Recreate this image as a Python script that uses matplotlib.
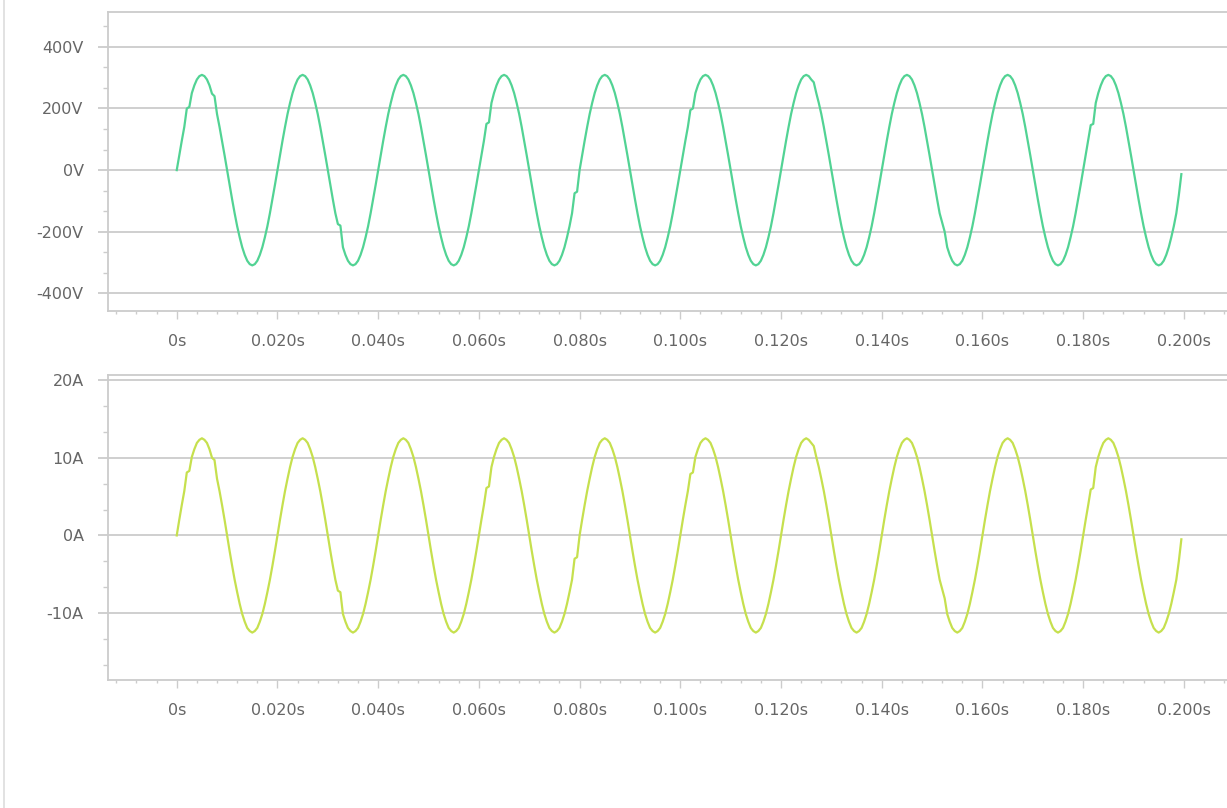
import matplotlib
matplotlib.use("Agg")
import matplotlib.pyplot as plt
from matplotlib.ticker import MultipleLocator, FuncFormatter

# sample times in seconds, 0.5 ms step
time_s = [i * 0.0005 for i in range(400)]

# line voltage, one row per 20 ms cycle
voltage = [
    0, 48, 95, 140, 200, 205, 250, 275, 294, 305, 309, 305, 294, 275, 248, 240, 182, 140, 95, 48,
    0, -48, -95, -140, -182, -218, -250, -275, -294, -305, -309, -305, -294, -275, -250, -218, -182, -140, -95, -48,
    0, 48, 95, 140, 182, 218, 250, 275, 294, 305, 309, 305, 294, 275, 250, 218, 182, 140, 95, 48,
    0, -48, -95, -140, -175, -180, -250, -275, -294, -305, -309, -305, -294, -275, -250, -218, -182, -140, -95, -48,
    0, 48, 95, 140, 182, 218, 250, 275, 294, 305, 309, 305, 294, 275, 250, 218, 182, 140, 95, 48,
    0, -48, -95, -140, -182, -218, -250, -275, -294, -305, -309, -305, -294, -275, -250, -218, -182, -140, -95, -48,
    0, 48, 95, 150, 155, 218, 250, 275, 294, 305, 309, 305, 294, 275, 250, 218, 182, 140, 95, 48,
    0, -48, -95, -140, -182, -218, -250, -275, -294, -305, -309, -305, -294, -275, -250, -218, -182, -140, -75, -70,
    0, 48, 95, 140, 182, 218, 250, 275, 294, 305, 309, 305, 294, 275, 250, 218, 182, 140, 95, 48,
    0, -48, -95, -140, -182, -218, -250, -275, -294, -305, -309, -305, -294, -275, -250, -218, -182, -140, -95, -48,
    0, 48, 95, 140, 195, 200, 250, 275, 294, 305, 309, 305, 294, 275, 250, 218, 182, 140, 95, 48,
    0, -48, -95, -140, -182, -218, -250, -275, -294, -305, -309, -305, -294, -275, -250, -218, -182, -140, -95, -48,
    0, 48, 95, 140, 182, 218, 250, 275, 294, 305, 309, 305, 294, 285, 250, 218, 182, 140, 95, 48,
    0, -48, -95, -140, -182, -218, -250, -275, -294, -305, -309, -305, -294, -275, -250, -218, -182, -140, -95, -48,
    0, 48, 95, 140, 182, 218, 250, 275, 294, 305, 309, 305, 294, 275, 250, 218, 182, 140, 95, 48,
    0, -48, -95, -140, -170, -200, -250, -275, -294, -305, -309, -305, -294, -275, -250, -218, -182, -140, -95, -48,
    0, 48, 95, 140, 182, 218, 250, 275, 294, 305, 309, 305, 294, 275, 250, 218, 182, 140, 95, 48,
    0, -48, -95, -140, -182, -218, -250, -275, -294, -305, -309, -305, -294, -275, -250, -218, -182, -140, -95, -48,
    0, 48, 95, 146, 150, 218, 250, 275, 294, 305, 309, 305, 294, 275, 250, 218, 182, 140, 95, 48,
    0, -48, -95, -140, -182, -218, -250, -275, -294, -305, -309, -305, -294, -275, -250, -218, -182, -140, -81, -13,
]

# line current, same sampling
current = [
    0, 2.0, 3.9, 5.7, 8.1, 8.3, 10.1, 11.1, 11.9, 12.3, 12.5, 12.3, 11.9, 11.1, 10.0, 9.7, 7.3, 5.7, 3.9, 2.0,
    0, -2.0, -3.9, -5.7, -7.3, -8.8, -10.1, -11.1, -11.9, -12.3, -12.5, -12.3, -11.9, -11.1, -10.1, -8.8, -7.3, -5.7, -3.9, -2.0,
    0, 2.0, 3.9, 5.7, 7.3, 8.8, 10.1, 11.1, 11.9, 12.3, 12.5, 12.3, 11.9, 11.1, 10.1, 8.8, 7.3, 5.7, 3.9, 2.0,
    0, -2.0, -3.9, -5.7, -7.1, -7.3, -10.1, -11.1, -11.9, -12.3, -12.5, -12.3, -11.9, -11.1, -10.1, -8.8, -7.3, -5.7, -3.9, -2.0,
    0, 2.0, 3.9, 5.7, 7.3, 8.8, 10.1, 11.1, 11.9, 12.3, 12.5, 12.3, 11.9, 11.1, 10.1, 8.8, 7.3, 5.7, 3.9, 2.0,
    0, -2.0, -3.9, -5.7, -7.3, -8.8, -10.1, -11.1, -11.9, -12.3, -12.5, -12.3, -11.9, -11.1, -10.1, -8.8, -7.3, -5.7, -3.9, -2.0,
    0, 2.0, 3.9, 6.1, 6.3, 8.8, 10.1, 11.1, 11.9, 12.3, 12.5, 12.3, 11.9, 11.1, 10.1, 8.8, 7.3, 5.7, 3.9, 2.0,
    0, -2.0, -3.9, -5.7, -7.3, -8.8, -10.1, -11.1, -11.9, -12.3, -12.5, -12.3, -11.9, -11.1, -10.1, -8.8, -7.3, -5.7, -3.0, -2.8,
    0, 2.0, 3.9, 5.7, 7.3, 8.8, 10.1, 11.1, 11.9, 12.3, 12.5, 12.3, 11.9, 11.1, 10.1, 8.8, 7.3, 5.7, 3.9, 2.0,
    0, -2.0, -3.9, -5.7, -7.3, -8.8, -10.1, -11.1, -11.9, -12.3, -12.5, -12.3, -11.9, -11.1, -10.1, -8.8, -7.3, -5.7, -3.9, -2.0,
    0, 2.0, 3.9, 5.7, 7.9, 8.1, 10.1, 11.1, 11.9, 12.3, 12.5, 12.3, 11.9, 11.1, 10.1, 8.8, 7.3, 5.7, 3.9, 2.0,
    0, -2.0, -3.9, -5.7, -7.3, -8.8, -10.1, -11.1, -11.9, -12.3, -12.5, -12.3, -11.9, -11.1, -10.1, -8.8, -7.3, -5.7, -3.9, -2.0,
    0, 2.0, 3.9, 5.7, 7.3, 8.8, 10.1, 11.1, 11.9, 12.3, 12.5, 12.3, 11.9, 11.5, 10.1, 8.8, 7.3, 5.7, 3.9, 2.0,
    0, -2.0, -3.9, -5.7, -7.3, -8.8, -10.1, -11.1, -11.9, -12.3, -12.5, -12.3, -11.9, -11.1, -10.1, -8.8, -7.3, -5.7, -3.9, -2.0,
    0, 2.0, 3.9, 5.7, 7.3, 8.8, 10.1, 11.1, 11.9, 12.3, 12.5, 12.3, 11.9, 11.1, 10.1, 8.8, 7.3, 5.7, 3.9, 2.0,
    0, -2.0, -3.9, -5.7, -6.9, -8.1, -10.1, -11.1, -11.9, -12.3, -12.5, -12.3, -11.9, -11.1, -10.1, -8.8, -7.3, -5.7, -3.9, -2.0,
    0, 2.0, 3.9, 5.7, 7.3, 8.8, 10.1, 11.1, 11.9, 12.3, 12.5, 12.3, 11.9, 11.1, 10.1, 8.8, 7.3, 5.7, 3.9, 2.0,
    0, -2.0, -3.9, -5.7, -7.3, -8.8, -10.1, -11.1, -11.9, -12.3, -12.5, -12.3, -11.9, -11.1, -10.1, -8.8, -7.3, -5.7, -3.9, -2.0,
    0, 2.0, 3.9, 5.9, 6.1, 8.8, 10.1, 11.1, 11.9, 12.3, 12.5, 12.3, 11.9, 11.1, 10.1, 8.8, 7.3, 5.7, 3.9, 2.0,
    0, -2.0, -3.9, -5.7, -7.3, -8.8, -10.1, -11.1, -11.9, -12.3, -12.5, -12.3, -11.9, -11.1, -10.1, -8.8, -7.3, -5.7, -3.3, -0.5,
]

volt_ticks = [-400, -200, 0, 200, 400]
amp_ticks = [-10, 0, 10, 20]
time_ticks = [i * 0.02 for i in range(11)]

W, H = 1227, 808
GRID = "#cccccc"
TEXT = "#666666"

fig = plt.figure(figsize=(W / 100, H / 100), dpi=100)
fig.patch.set_facecolor("white")

# thin border on the far left of the page
fig.add_artist(plt.Line2D([4 / W, 4 / W], [0, 1], color="#dddddd", lw=1.2,
                          transform=fig.transFigure))


def panel(top_px, bottom_px):
    left = 108 / W
    return fig.add_axes([left, 1 - bottom_px / H, 1.01 - left, (bottom_px - top_px) / H])


def time_fmt(x, pos):
    return "0s" if abs(x) < 1e-9 else f"{x:.3f}s"


def style(ax, unit, major, minor):
    ax.set_xlim(-0.01365, 0.2110)
    ax.set_xticks(time_ticks)
    ax.xaxis.set_major_formatter(FuncFormatter(time_fmt))
    ax.xaxis.set_minor_locator(MultipleLocator(0.004))
    ax.set_yticks(major)
    ax.yaxis.set_minor_locator(MultipleLocator(minor))
    ax.yaxis.set_major_formatter(FuncFormatter(lambda v, p: f"{v:.0f}{unit}"))
    ax.grid(axis="y", color=GRID, lw=1.3)
    ax.set_axisbelow(True)
    ax.spines["right"].set_visible(False)
    for s in ("left", "top", "bottom"):
        ax.spines[s].set_color(GRID)
        ax.spines[s].set_linewidth(1.3)
    ax.tick_params(axis="y", which="major", length=7.5, width=1.3, color=GRID,
                   pad=10, labelsize=11.5, labelcolor=TEXT)
    ax.tick_params(axis="y", which="minor", length=3.5, width=1, color=GRID)
    ax.tick_params(axis="x", which="major", length=5.5, width=1, color=GRID,
                   pad=11, labelsize=11.5, labelcolor=TEXT)
    ax.tick_params(axis="x", which="minor", length=2.5, width=1, color=GRID)


ax1 = panel(12, 311)
ax1.plot(time_s, voltage, color="#52d394", lw=1.6, solid_joinstyle="round")
ax1.set_ylim(-457, 513)
style(ax1, "V", volt_ticks, 200 / 3)

ax2 = panel(375, 680)
ax2.plot(time_s, current, color="#c6e04e", lw=1.6, solid_joinstyle="round")
ax2.set_ylim(-18.6, 20.64)
style(ax2, "A", amp_ticks, 10 / 3)

fig.savefig("out.png", dpi=100, facecolor="white")
